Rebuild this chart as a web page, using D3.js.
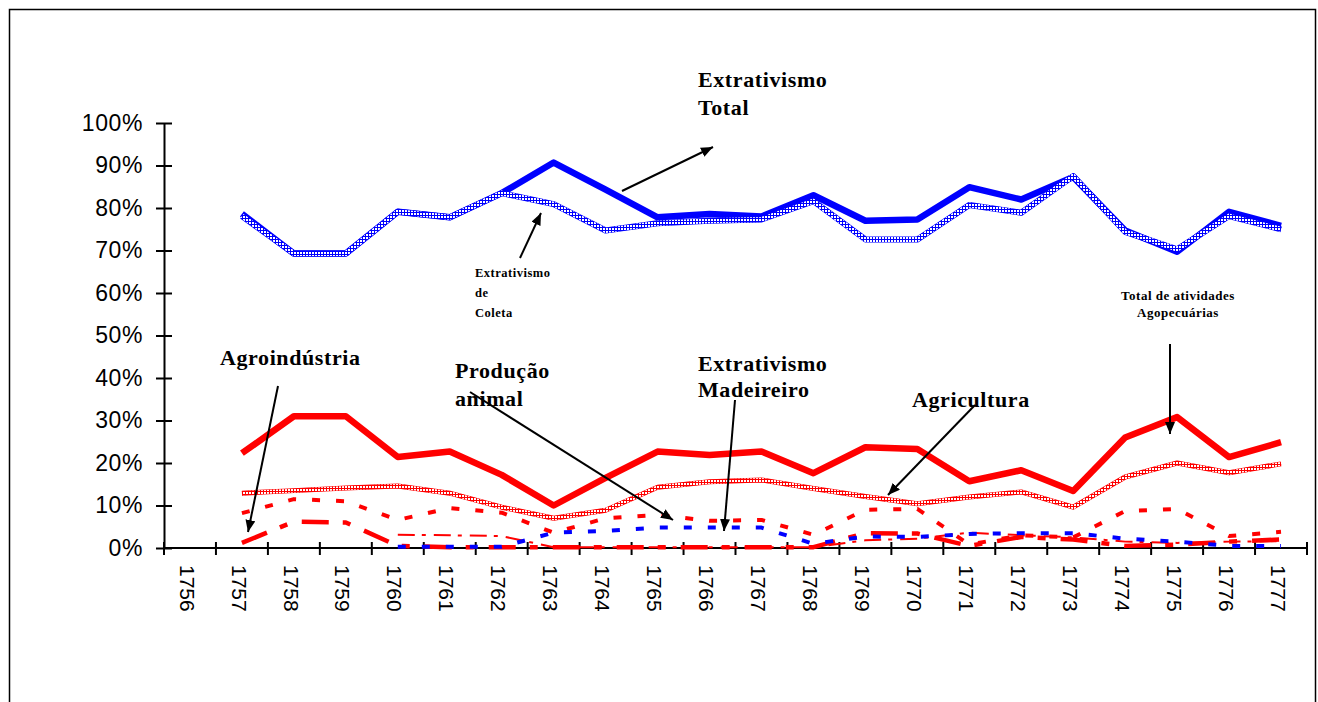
<!DOCTYPE html>
<html>
<head>
<meta charset="utf-8">
<script src="https://cdn.jsdelivr.net/npm/d3@7"></script>
<style>
  body { margin: 0; background: #fff; }
  svg { display: block; }
  .ann { font-family: "Liberation Serif", "Times New Roman", serif; font-weight: bold; fill: #000; }
  .axis text { font-family: "Liberation Sans", Arial, sans-serif; font-size: 21px; fill: #000; }
</style>
</head>
<body>
<div id="chart"></div>
<script>
// Categories and tick labels
const years = ["1756", "1757", "1758", "1759", "1760", "1761", "1762", "1763", "1764", "1765", "1766",
  "1767", "1768", "1769", "1770", "1771", "1772", "1773", "1774", "1775", "1776", "1777"];
const yTicks = [0, 10, 20, 30, 40, 50, 60, 70, 80, 90, 100];

// Series values (% of total), one per year; null = no value
const extrativismoTotal = [null, 78.6, 69.3, 69.3, 79.1, 77.8, 83.5, 90.7, 84.3, 77.8, 78.6, 78, 83, 77, 77.3, 84.9, 82, 87.3, 74.7, 69.7, 79.1, 75.8];
const extrativismoColeta = [null, 78.1, 69.3, 69.3, 79.1, 77.8, 83.5, 80.9, 74.7, 76.4, 77, 77.3, 81.6, 72.6, 72.6, 80.7, 78.9, 87.5, 74.4, 70.3, 78.1, 75];
const totalAgropecuarias = [null, 22.3, 31, 31, 21.4, 22.7, 17.2, 10, 16.5, 22.7, 21.9, 22.7, 17.6, 23.7, 23.3, 15.7, 18.3, 13.4, 26, 30.8, 21.4, 24.9];
const agricultura = [null, 12.9, 13.5, 14.1, 14.6, 12.9, 9.6, 7, 8.9, 14.3, 15.6, 16, 14, 12.1, 10.4, 12, 13.2, 9.6, 16.7, 20, 17.7, 19.8];
const producaoAnimal = [null, 8.2, 11.5, 11, 6.6, 9.4, 8.3, 3.6, 7, 7.8, 6.4, 6.6, 3.1, 9, 9.2, 0.8, 3, 2.5, 8.7, 9.2, 2.8, 3.8];
const extrativismoMadeireiro = [null, null, null, null, 0.3, 0.3, 0.3, 3.6, 4, 4.8, 4.8, 4.8, 1, 2.7, 2.6, 3.3, 3.5, 3.5, 2.2, 1.5, 0.5, 0.5];
const agroindustria = [null, 1.2, 6.2, 6, 0.5, 0.2, 0.2, 0.2, 0.2, 0.2, 0.2, 0.2, 0.2, 3.5, 3.4, 0.5, 2.6, 2, 0.5, 0.8, 1.5, 2];
const outros = [null, null, null, null, 3.1, 3, 2.8, 0.2, 0.2, 0.2, 0.2, 0.2, 0.2, 1.8, 2.2, 3.6, 3, 2.5, 1.5, 1.2, 1.5, 1.6];

const width = 1318;
const height = 702;
const BLUE = '#0000ff';
const RED = '#ff0000';

const svg = d3.select('#chart').append('svg')
  .attr('width', width)
  .attr('height', height);

// outer frame
svg.append('rect')
  .attr('x', 9.5).attr('y', 9.5)
  .attr('width', 1306).attr('height', 730)
  .attr('fill', 'none').attr('stroke', '#000').attr('stroke-width', 1.5);

const x = d3.scaleBand().domain(years).range([164, 1307]);
const y = d3.scaleLinear().domain([0, 100]).range([548, 123]);

const defs = svg.append('defs');

// dotted texture (opaque) for the "light" lines
const addTexture = (id, color, dot) => {
  const p = defs.append('pattern')
    .attr('id', id)
    .attr('patternUnits', 'userSpaceOnUse')
    .attr('width', 3).attr('height', 3);
  p.append('rect').attr('width', 3).attr('height', 3).attr('fill', color).attr('shape-rendering', 'crispEdges');
  p.append('rect').attr('width', dot).attr('height', dot).attr('fill', '#fff').attr('shape-rendering', 'crispEdges');
};
addTexture('texBlue', BLUE, 1.5);
addTexture('texRed', RED, 2);

defs.append('marker')
  .attr('id', 'arrow')
  .attr('viewBox', '0 0 12 10')
  .attr('refX', 12).attr('refY', 5)
  .attr('markerWidth', 12).attr('markerHeight', 10)
  .attr('markerUnits', 'userSpaceOnUse')
  .attr('orient', 'auto')
  .append('path')
  .attr('d', 'M0,0 L12,5 L0,10 Z')
  .attr('fill', '#000');

// Y axis
const yAxis = svg.append('g')
  .attr('class', 'axis')
  .attr('transform', 'translate(164,0)')
  .call(d3.axisLeft(y).tickValues(yTicks).tickFormat(d => d + '%').tickSize(8).tickSizeOuter(0));
yAxis.select('.domain').attr('stroke', '#000').attr('stroke-width', 2);
yAxis.selectAll('.tick line').attr('x1', 8).attr('stroke-width', 2);
yAxis.selectAll('.tick text')
  .attr('x', -21)
  .style('font-size', '23px')
  .attr('letter-spacing', 0.6);

// X axis: line, ticks between categories, rotated labels
const xAxis = svg.append('g').attr('class', 'axis');
xAxis.append('line')
  .attr('x1', x.range()[0]).attr('x2', x.range()[1])
  .attr('y1', y(0)).attr('y2', y(0))
  .attr('stroke', '#000').attr('stroke-width', 2);
xAxis.selectAll('line.tk')
  .data(years.map(d => x(d)).concat([x.range()[1]]))
  .enter().append('line')
  .attr('class', 'tk')
  .attr('x1', d => d).attr('x2', d => d)
  .attr('y1', y(0) - 6).attr('y2', y(0) + 7)
  .attr('stroke', '#000').attr('stroke-width', 2);
xAxis.selectAll('text')
  .data(years)
  .enter().append('text')
  .attr('transform', d => `translate(${x(d) + x.bandwidth() / 2 - 3},565) rotate(90)`)
  .attr('dy', '0.35em')
  .text(d => d);

const line = d3.line()
  .defined(d => d != null)
  .x((d, i) => x(years[i]) + x.bandwidth() / 2)
  .y(d => y(d));

const series = [
  { name: 'Agroindústria', values: agroindustria, color: RED, width: 4.5, dash: '27,14,8,15' },
  { name: 'Outros', values: outros, color: RED, width: 2, dash: '17,7,4,8' },
  { name: 'Produção animal', values: producaoAnimal, color: RED, width: 4, dash: '8,16' },
  { name: 'Extrativismo Madeireiro', values: extrativismoMadeireiro, color: BLUE, width: 4, dash: '8,16' },
  { name: 'Agricultura', values: agricultura, color: RED, width: 5, texture: 'texRed' },
  { name: 'Total de atividades Agropecuárias', values: totalAgropecuarias, color: RED, width: 6.5 },
  { name: 'Extrativismo Total', values: extrativismoTotal, color: BLUE, width: 6.5 },
  { name: 'Extrativismo de Coleta', values: extrativismoColeta, color: BLUE, width: 6, texture: 'texBlue' }
];

series.forEach(s => {
  const p = svg.append('path')
    .attr('d', line(s.values))
    .attr('fill', 'none')
    .attr('stroke', s.color)
    .attr('stroke-width', s.width)
    .attr('stroke-linejoin', 'round');
  if (s.dash) p.attr('stroke-dasharray', s.dash);
  if (s.texture) {
    svg.append('path')
      .attr('d', line(s.values))
      .attr('fill', 'none')
      .attr('stroke', `url(#${s.texture})`)
      .attr('stroke-width', s.width - 1)
      .attr('stroke-linejoin', 'round');
  }
});

// annotations
const labels = [
  { x: 698, y: 87, size: 22, lines: ['Extrativismo', 'Total'], gap: 28 },
  { x: 475, y: 277, size: 12.5, lines: ['Extrativismo', 'de', 'Coleta'], gap: 20 },
  { x: 1178, y: 300, size: 13, lines: ['Total de atividades', 'Agopecuárias'], gap: 17, anchor: 'middle' },
  { x: 220, y: 365, size: 22, lines: ['Agroindústria'], gap: 28 },
  { x: 455, y: 378, size: 22, lines: ['Produção', 'animal'], gap: 28 },
  { x: 698, y: 371, size: 22, lines: ['Extrativismo', 'Madeireiro'], gap: 26 },
  { x: 912, y: 407, size: 22, lines: ['Agricultura'], gap: 28 }
];

labels.forEach(l => {
  const t = svg.append('text')
    .attr('class', 'ann')
    .attr('font-size', l.size)
    .attr('letter-spacing', l.size > 15 ? 0.6 : 0.5)
    .attr('text-anchor', l.anchor || 'start');
  l.lines.forEach((txt, i) => {
    t.append('tspan').attr('x', l.x).attr('y', l.y + i * l.gap).text(txt);
  });
});

const arrows = [
  [622, 191, 713, 147],
  [520, 258, 541, 213],
  [1170, 344, 1170, 434],
  [278, 386, 248, 532],
  [470, 392, 673, 520],
  [735, 400, 724, 531],
  [975, 405, 888, 495]
];

svg.selectAll('line.arrow')
  .data(arrows)
  .enter().append('line')
  .attr('class', 'arrow')
  .attr('x1', d => d[0]).attr('y1', d => d[1])
  .attr('x2', d => d[2]).attr('y2', d => d[3])
  .attr('stroke', '#000')
  .attr('stroke-width', 2)
  .attr('marker-end', 'url(#arrow)');
</script>
</body>
</html>
